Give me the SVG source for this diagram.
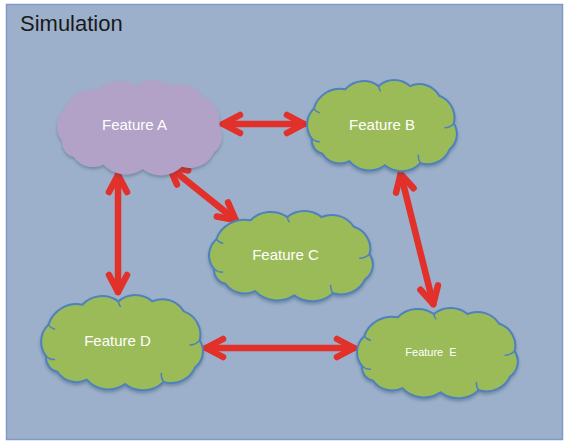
<svg xmlns="http://www.w3.org/2000/svg" xmlns:xlink="http://www.w3.org/1999/xlink" width="566" height="444" viewBox="0 0 566 444">
  <style>
    .frame { fill: #9CB0CB; stroke: #7F9AC6; stroke-width: 1.5; }
    .title { font-family: "Liberation Sans", Arial, sans-serif; font-size: 22px; fill: #1a1a1a; }
    .cloud { filter: url(#soft); }
    .green { fill: #9BBB59; stroke: #4F81BD; stroke-width: 2; }
    .purple { fill: #B3A2C7; stroke: none; }
    .curl { fill: none; stroke: #4F81BD; stroke-width: 1.5; }
    .label { font-family: "Liberation Sans", Arial, sans-serif; font-size: 15px; fill: #ffffff; text-anchor: middle; }
    .small { font-size: 11px; }
    .link { fill: none; stroke: #E2302B; stroke-width: 6.5; stroke-linecap: round; marker-start: url(#head); marker-end: url(#head); }
  </style>
  <defs>
    <filter id="soft" x="-10%" y="-10%" width="120%" height="130%">
      <feDropShadow dx="0" dy="2" stdDeviation="1.5" flood-color="#2d3f5c" flood-opacity="0.35"/>
    </filter>
    <!-- cloud outline, roughly x 9.5..153, y 3.3..88.5 -->
    <path id="cloud-shape" vector-effect="non-scaling-stroke" d="M 14 58 A 21 21 0 0 1 16 30 A 26 26 0 0 1 46 12 A 24 24 0 0 1 78 9 A 22.5 22.5 0 0 1 108 9 A 22 22 0 0 1 136 18 A 22 22 0 0 1 150 44 A 18 18 0 0 1 146 68 A 23 23 0 0 1 118 81 A 25.5 25.5 0 0 1 84 83 A 25.5 25.5 0 0 1 50 79 A 20 20 0 0 1 24 72 A 13 13 0 0 1 14 58 Z"/>
    <!-- small inner curls of the cloud -->
    <path id="cloud-curls" vector-effect="non-scaling-stroke" d="M 150 44 A 12 12 0 0 1 141 48 M 118 81 A 12 12 0 0 1 116 73 M 14 58 A 10 10 0 0 0 22 61 M 16 30 A 10 10 0 0 0 22 34 M 78 9 A 10 10 0 0 0 80 14"/>
    <marker id="head" viewBox="-22 -14 26 28" refX="0" refY="0" markerWidth="26" markerHeight="28" markerUnits="userSpaceOnUse" orient="auto-start-reverse" overflow="visible">
      <path d="M -17 -9 L 0 0 L -17 9" fill="none" stroke="#E2302B" stroke-width="6.5" stroke-linecap="round" stroke-linejoin="round"/>
    </marker>
  </defs>

  <rect class="frame" x="6.5" y="4.5" width="556" height="435"/>
  <text class="title" x="20" y="31">Simulation</text>

  <g id="connectors">
    <path class="link" d="M 223 124 L 304 124"/>
    <path class="link" d="M 169.3 166.9 L 235.7 220.1"/>
    <path class="link" d="M 118 175 L 118 292"/>
    <path class="link" d="M 400.7 173.9 L 433.3 304.1"/>
    <path class="link" d="M 206 348 L 354 348"/>
  </g>

  <g id="feature-a">
    <g class="cloud" transform="translate(46.1 76.3) scale(1.15 1.118)">
      <use xlink:href="#cloud-shape" class="purple"/>
    </g>
    <text class="label" x="134.5" y="130">Feature A</text>
  </g>

  <g id="feature-b">
    <g class="cloud" transform="translate(297.1 76.5) scale(1.045 1.07)">
      <use xlink:href="#cloud-shape" class="green"/>
      <use xlink:href="#cloud-curls" class="curl"/>
    </g>
    <text class="label" x="382" y="130">Feature B</text>
  </g>

  <g id="feature-c">
    <g class="cloud" transform="translate(198.1 207.5) scale(1.143 1.059)">
      <use xlink:href="#cloud-shape" class="green"/>
      <use xlink:href="#cloud-curls" class="curl"/>
    </g>
    <text class="label" x="285.5" y="260">Feature C</text>
  </g>

  <g id="feature-d">
    <g class="cloud" transform="translate(30.3 291.3) scale(1.129 1.118)">
      <use xlink:href="#cloud-shape" class="green"/>
      <use xlink:href="#cloud-curls" class="curl"/>
    </g>
    <text class="label" x="117.5" y="346">Feature D</text>
  </g>

  <g id="feature-e">
    <g class="cloud" transform="translate(346.3 304.5) scale(1.122 1.059)">
      <use xlink:href="#cloud-shape" class="green"/>
      <use xlink:href="#cloud-curls" class="curl"/>
    </g>
    <text class="label small" x="431" y="356" xml:space="preserve">Feature  E</text>
  </g>
</svg>
